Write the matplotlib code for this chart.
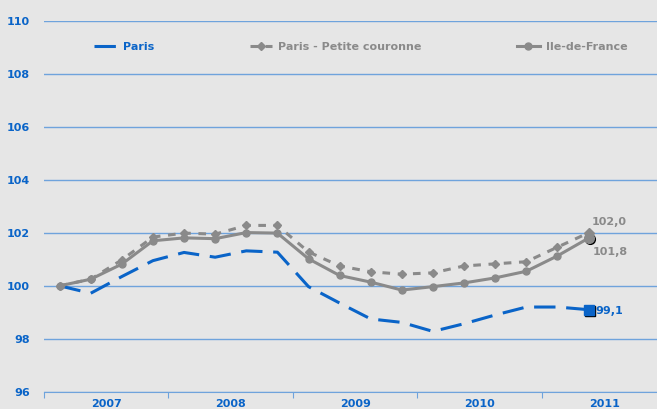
import numpy as np
import matplotlib
matplotlib.use("Agg")
import matplotlib.pyplot as plt

# trimestres 2007T1 .. 2011T2
years = ["2007", "2008", "2009", "2010", "2011"]
paris = [100.0, 99.72, 100.35, 100.95, 101.26, 101.08, 101.32, 101.27, 99.97,
         99.35, 98.75, 98.62, 98.28, 98.57, 98.9, 99.2, 99.2, 99.1]
petite_couronne = [100.0, 100.25, 100.98, 101.84, 101.99, 101.95, 102.28, 102.28, 101.28,
                   100.75, 100.53, 100.44, 100.49, 100.75, 100.83, 100.91, 101.46, 102.0]
idf = [100.0, 100.25, 100.82, 101.7, 101.81, 101.78, 102.01, 101.99, 101.02,
       100.39, 100.14, 99.84, 99.97, 100.11, 100.3, 100.55, 101.13, 101.8]
labels = ["Paris", "Paris - Petite couronne", "Ile-de-France"]

BLUE = "#0a64c8"
GRID = "#6fa3dc"
GRAY = "#8a8a8a"
BG = "#e6e6e6"

x = np.arange(len(paris))

fig = plt.figure(figsize=(6.57, 4.09), dpi=100, facecolor=BG)
ax = fig.add_axes([0.067, 0.042, 0.933, 0.907])
ax.set_facecolor(BG)

ax.plot(x, paris, color=BLUE, lw=2.2, dashes=(7, 3.5), label=labels[0], zorder=3)
ax.plot(x, petite_couronne, color=GRAY, lw=2.2, dashes=(2.5, 2.5), marker="D", ms=4,
        label=labels[1], zorder=3)
ax.plot(x, idf, color=GRAY, lw=2.2, marker="o", ms=5, label=labels[2], zorder=4)

# points finaux (ombre noire decalee)
ax.plot(x[-1] + 0.04, paris[-1] - 0.05, marker="s", ms=7, color="black", zorder=5)
ax.plot(x[-1], paris[-1], marker="s", ms=7, color=BLUE, zorder=6)
ax.plot(x[-1] + 0.04, idf[-1] - 0.05, marker="o", ms=7, color="black", zorder=5)
ax.plot(x[-1], idf[-1], marker="o", ms=7, color=GRAY, zorder=6)
ax.plot(x[-1], petite_couronne[-1], marker="D", ms=5, color=GRAY, zorder=6)

ax.annotate("102,0", (x[-1], petite_couronne[-1]), xytext=(2, 6), textcoords="offset points",
            color=GRAY, fontsize=8, fontweight="bold")
ax.annotate("101,8", (x[-1], idf[-1]), xytext=(3, -12), textcoords="offset points",
            color=GRAY, fontsize=8, fontweight="bold")
ax.annotate("99,1", (x[-1], paris[-1]), xytext=(5, -3), textcoords="offset points",
            color=BLUE, fontsize=8, fontweight="bold")

ax.set_ylim(96, 110)
ax.set_yticks(np.arange(96, 111, 2))
ax.set_xlim(-0.5, 19.2)
ax.grid(axis="y", color=GRID, lw=1)
ax.set_axisbelow(True)

ax.set_xticks(np.arange(-0.5, 19, 4))
ax.set_xticklabels([])
ax.set_xticks(np.arange(1.5, 20, 4), minor=True)
ax.set_xticklabels(years, minor=True)
ax.tick_params(axis="x", which="major", direction="out", length=4, color=GRID)
ax.tick_params(axis="x", which="minor", length=0, pad=5, labelcolor=BLUE, labelsize=8)
ax.tick_params(axis="y", length=0, pad=10, labelcolor=BLUE, labelsize=8)
for lab in ax.get_xticklabels(minor=True) + ax.get_yticklabels():
    lab.set_fontweight("bold")

for side in ["top", "right", "left"]:
    ax.spines[side].set_visible(False)
ax.spines["bottom"].set_color(GRID)

leg = ax.legend(loc="upper left", bbox_to_anchor=(0.065, 0.97), ncol=3, frameon=False,
                fontsize=8, handlelength=2.0, columnspacing=8.6, handletextpad=0.6)
for t, c in zip(leg.get_texts(), [BLUE, GRAY, GRAY]):
    t.set_color(c)
    t.set_fontweight("bold")

fig.savefig("out.png", dpi=100, facecolor=BG)
